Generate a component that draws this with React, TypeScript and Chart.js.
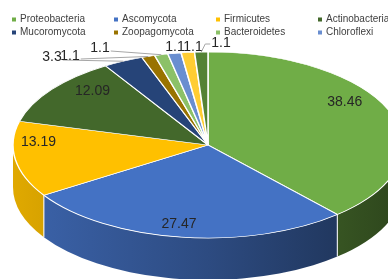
import React, { useEffect, useRef } from 'react';
import { Chart, registerables } from 'chart.js';

Chart.register(...registerables);

// ---- data ----
const categories = [
  'Proteobacteria', 'Ascomycota', 'Firmicutes', 'Actinobacteria',
  'Mucoromycota', 'Zoopagomycota', 'Bacteroidetes', 'Chloroflexi', '', '',
];
const values = [38.46, 27.47, 13.19, 12.09, 3.3, 1.1, 1.1, 1.1, 1.1, 1.1];
const valueLabels = ['38.46', '27.47', '13.19', '12.09', '3.3', '1.1', '1.1', '1.1', '1.1', '1.1'];
const colors = [
  '#70AD47', '#4472C4', '#FFC000', '#43682B', '#264478',
  '#997300', '#8CC168', '#698ED0', '#FFCD33', '#548235',
];
const legendCount = 8;

// ---- layout / style ----
const W = 388;
const H = 279;
const CX = 208;
const CY = 145;
const RX = 195;
const RY = 93;
const DEPTH = 42;
const FONT = "'Liberation Sans', Arial, sans-serif";
const LABEL_COLOR = '#262626';
const LEGEND_COLOR = '#404040';
const LEADER_COLOR = '#A6A6A6';

// label placement (inside labels: radial fraction + nudge; outside labels: text centre)
const INSIDE_FRAC = 0.75;
const insideNudge: Record<number, [number, number]> = {
  0: [0, -18], 1: [-9, 10], 2: [-25, -14], 3: [2, -12],
};
const outsidePos: Record<number, [number, number]> = {
  4: [52, 57], 5: [70, 56], 6: [100, 48], 7: [175, 47], 8: [193, 47], 9: [221, 43],
};

function shade(hex: string, f: number): string {
  const n = parseInt(hex.slice(1), 16);
  const r = Math.round(((n >> 16) & 255) * f);
  const g = Math.round(((n >> 8) & 255) * f);
  const b = Math.round((n & 255) * f);
  return `rgb(${r},${g},${b})`;
}

function rim(a: number, f = 1): [number, number] {
  return [CX + RX * f * Math.cos(a), CY + RY * f * Math.sin(a)];
}

const pie3d = {
  id: 'pie3d',
  beforeDatasetsDraw(chart: any) {
    const ctx: CanvasRenderingContext2D = chart.ctx;
    const arcs = chart.getDatasetMeta(0).data;
    if (!arcs.length) return;
    const p0 = arcs[0].getProps(['x', 'y', 'outerRadius'], true);

    // side walls (front half only)
    const bounds: number[] = [];
    arcs.forEach((arc: any, i: number) => {
      const { startAngle, endAngle } = arc.getProps(['startAngle', 'endAngle'], true);
      const s = Math.max(startAngle, 0);
      const e = Math.min(endAngle, Math.PI);
      if (e <= s) return;
      if (startAngle > 0 && startAngle < Math.PI) bounds.push(startAngle);
      const grad = ctx.createLinearGradient(CX - RX, 0, CX + RX, 0);
      grad.addColorStop(0, shade(colors[i], 0.88));
      grad.addColorStop(0.5, shade(colors[i], 0.66));
      grad.addColorStop(1, shade(colors[i], 0.4));
      ctx.beginPath();
      ctx.ellipse(CX, CY, RX, RY, 0, s, e);
      ctx.ellipse(CX, CY + DEPTH, RX, RY, 0, e, s, true);
      ctx.closePath();
      ctx.fillStyle = grad;
      ctx.fill();
    });
    ctx.save();
    ctx.strokeStyle = 'rgba(255,255,255,0.85)';
    ctx.lineWidth = 1.2;
    bounds.forEach((a) => {
      const [x, y] = rim(a);
      ctx.beginPath();
      ctx.moveTo(x, y);
      ctx.lineTo(x, y + DEPTH);
      ctx.stroke();
    });
    ctx.restore();

    // top face: squash Chart.js' own arcs into the ellipse
    ctx.save();
    ctx.translate(CX, CY);
    ctx.scale(RX / p0.outerRadius, RY / p0.outerRadius);
    ctx.translate(-p0.x, -p0.y);
  },
  afterDatasetsDraw(chart: any) {
    const ctx: CanvasRenderingContext2D = chart.ctx;
    ctx.restore();
    const arcs = chart.getDatasetMeta(0).data;
    ctx.save();
    ctx.font = `14px ${FONT}`;
    ctx.fillStyle = LABEL_COLOR;
    ctx.textAlign = 'center';
    ctx.textBaseline = 'middle';
    arcs.forEach((arc: any, i: number) => {
      const { startAngle, endAngle } = arc.getProps(['startAngle', 'endAngle'], true);
      const mid = (startAngle + endAngle) / 2;
      const txt = valueLabels[i];
      if (insideNudge[i]) {
        const [x, y] = rim(mid, INSIDE_FRAC);
        ctx.fillText(txt, x + insideNudge[i][0], y + insideNudge[i][1]);
      } else if (outsidePos[i]) {
        const [lx, ly] = outsidePos[i];
        const [ax, ay] = rim(mid);
        const hw = ctx.measureText(txt).width / 2;
        ctx.strokeStyle = LEADER_COLOR;
        ctx.lineWidth = 1;
        if (lx < ax - 20) {
          ctx.beginPath();
          ctx.moveTo(lx + hw + 1, ly + 3);
          ctx.lineTo(ax, ay);
          ctx.stroke();
        } else if (lx > ax + 10) {
          ctx.beginPath();
          ctx.moveTo(lx - hw - 1, ly + 1);
          ctx.lineTo(ax + 4, ly + 1);
          ctx.lineTo(ax, ay);
          ctx.stroke();
        }
        ctx.fillText(txt, lx, ly);
      }
    });
    ctx.restore();
  },
  afterDraw(chart: any) {
    const ctx: CanvasRenderingContext2D = chart.ctx;
    ctx.save();
    ctx.font = `10px ${FONT}`;
    ctx.textAlign = 'left';
    ctx.textBaseline = 'middle';
    for (let i = 0; i < legendCount; i++) {
      const col = i % 4;
      const row = Math.floor(i / 4);
      const mx = 14 + col * 102;
      const my = 19.5 + row * 13;
      ctx.fillStyle = colors[i];
      ctx.fillRect(mx - 2, my - 2, 4, 4);
      ctx.fillStyle = LEGEND_COLOR;
      ctx.fillText(chart.data.labels[i], mx + 6, my);
    }
    ctx.restore();
  },
};

export default function App() {
  const ref = useRef<HTMLCanvasElement | null>(null);
  useEffect(() => {
    if (!ref.current) return;
    const chart = new Chart(ref.current, {
      type: 'pie',
      data: {
        labels: categories,
        datasets: [{
          data: values,
          backgroundColor: colors,
          borderColor: '#FFFFFF',
          borderWidth: 1.5,
          radius: RX,
        }],
      },
      options: {
        responsive: false,
        animation: false,
        events: [],
        plugins: {
          legend: { display: false },
          tooltip: { enabled: false },
        },
      },
      plugins: [pie3d],
    } as any);
    return () => chart.destroy();
  }, []);
  return (
    <div style={{ position: 'fixed', left: 0, top: 0, width: W, height: H, background: '#fff' }}>
      <canvas ref={ref} width={W} height={H} style={{ width: W, height: H }} />
    </div>
  );
}
